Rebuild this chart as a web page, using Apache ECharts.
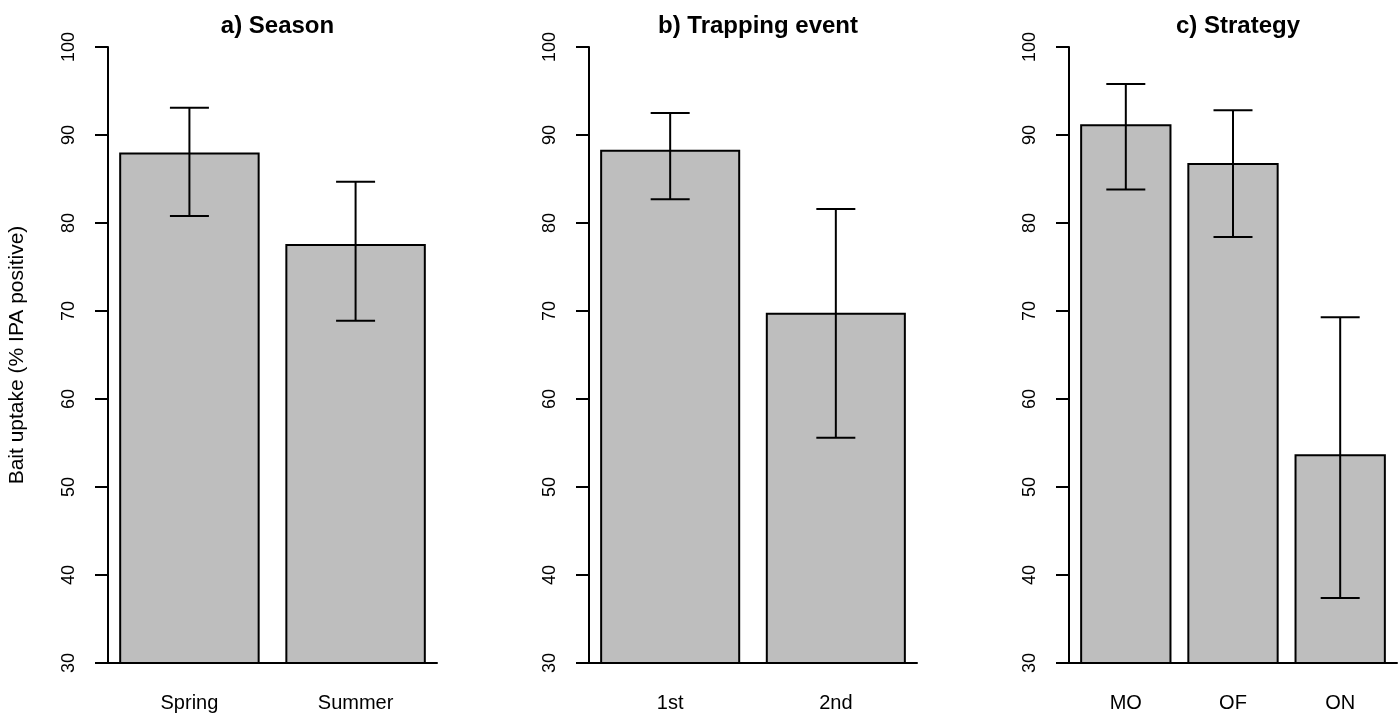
<!DOCTYPE html>
<html>
<head>
<meta charset="utf-8">
<script src="https://cdn.jsdelivr.net/npm/echarts@6/dist/echarts.min.js"></script>
<style>
html,body{margin:0;padding:0;background:#fff;}
#main{width:1398px;height:715px;}
</style>
</head>
<body>
<div id="main"></div>
<script>
// ---- data ----
var panelTitles = ['a) Season', 'b) Trapping event', 'c) Strategy'];
var seasonCats = ['Spring', 'Summer'];
var seasonVals = [87.9, 77.5];
var seasonLo = [80.8, 68.9];
var seasonHi = [93.1, 84.7];

var eventCats = ['1st', '2nd'];
var eventVals = [88.2, 69.7];
var eventLo = [82.7, 55.6];
var eventHi = [92.5, 81.6];

var strategyCats = ['MO', 'OF', 'ON'];
var strategyVals = [91.1, 86.7, 53.6];
var strategyLo = [83.8, 78.4, 37.4];
var strategyHi = [95.8, 92.8, 69.3];

var yTicks = [30, 40, 50, 60, 70, 80, 90, 100];
var yTitle = 'Bait uptake (% IPA positive)';

// ---- build ----
var FONT = '"Liberation Sans", Arial, sans-serif';
var panels = [
  {cats: seasonCats, vals: seasonVals, lo: seasonLo, hi: seasonHi, left: 108, width: 329},
  {cats: eventCats, vals: eventVals, lo: eventLo, hi: eventHi, left: 589, width: 328},
  {cats: strategyCats, vals: strategyVals, lo: strategyLo, hi: strategyHi, left: 1069, width: 328}
];
var SPACE = 0.2, BW = 1;
function center(i) { return SPACE + BW / 2 + i * (BW + SPACE); }

var grids = [], xAxes = [], yAxes = [], series = [], titles = [];
panels.forEach(function (p, k) {
  var n = p.cats.length;
  var lo = SPACE, hi = n * (BW + SPACE);
  var pad = 0.04 * (hi - lo);
  grids.push({left: p.left, width: p.width, top: 47, bottom: 52});
  titles.push({
    text: panelTitles[k], left: p.left + p.width / 2, top: 9, textAlign: 'center',
    textStyle: {fontFamily: FONT, fontSize: 24, fontWeight: 'bold', color: '#000'}
  });
  var centers = p.cats.map(function (c, i) { return center(i); });
  xAxes.push({
    type: 'value', gridIndex: k, min: lo - pad, max: hi + pad,
    axisLine: {show: true, lineStyle: {color: '#000', width: 2}},
    axisTick: {show: false}, splitLine: {show: false},
    axisLabel: {
      customValues: centers, margin: 30,
      fontFamily: FONT, fontSize: 20, color: '#000',
      formatter: function (v) {
        var idx = Math.round((v - center(0)) / (BW + SPACE));
        return p.cats[idx] || '';
      }
    }
  });
  yAxes.push({
    type: 'value', gridIndex: k, min: yTicks[0], max: yTicks[yTicks.length - 1], interval: 10,
    name: k === 0 ? yTitle : '', nameLocation: 'middle', nameGap: 80, nameRotate: 90,
    nameTextStyle: {fontFamily: FONT, fontSize: 21, color: '#000'},
    axisLine: {show: true, lineStyle: {color: '#000', width: 2}},
    axisTick: {show: true, length: 13, lineStyle: {color: '#000', width: 2}},
    splitLine: {show: false},
    axisLabel: {rotate: 90, margin: 30, fontFamily: FONT, fontSize: 18, color: '#000'}
  });
  var barData = p.vals.map(function (v, i) { return [centers[i], v]; });
  series.push({
    type: 'custom', xAxisIndex: k, yAxisIndex: k, data: barData, clip: true,
    renderItem: function (params, api) {
      var x = api.value(0), v = api.value(1);
      var base = yTicks[0];
      var a = api.coord([x - BW / 2, v]);
      var b = api.coord([x + BW / 2, base]);
      return {
        type: 'rect',
        shape: {x: a[0], y: a[1], width: b[0] - a[0], height: b[1] - a[1]},
        style: {fill: '#bebebe', stroke: '#000', lineWidth: 2}
      };
    }
  });
  var errData = p.vals.map(function (v, i) { return [centers[i], p.lo[i], p.hi[i]]; });
  series.push({
    type: 'custom', xAxisIndex: k, yAxisIndex: k, data: errData, z: 5,
    renderItem: function (params, api) {
      var x = api.value(0);
      var l = api.coord([x, api.value(1)]);
      var h = api.coord([x, api.value(2)]);
      var cap = 19.5;
      var st = {stroke: '#000', lineWidth: 2};
      return {
        type: 'group',
        children: [
          {type: 'line', shape: {x1: l[0], y1: l[1], x2: h[0], y2: h[1]}, style: st},
          {type: 'line', shape: {x1: l[0] - cap, y1: l[1], x2: l[0] + cap, y2: l[1]}, style: st},
          {type: 'line', shape: {x1: h[0] - cap, y1: h[1], x2: h[0] + cap, y2: h[1]}, style: st}
        ]
      };
    }
  });
});

var chart = echarts.init(document.getElementById('main'), null, {renderer: 'canvas'});
chart.setOption({
  backgroundColor: '#fff',
  animation: false,
  title: titles,
  grid: grids,
  xAxis: xAxes,
  yAxis: yAxes,
  series: series
});
</script>
</body>
</html>
